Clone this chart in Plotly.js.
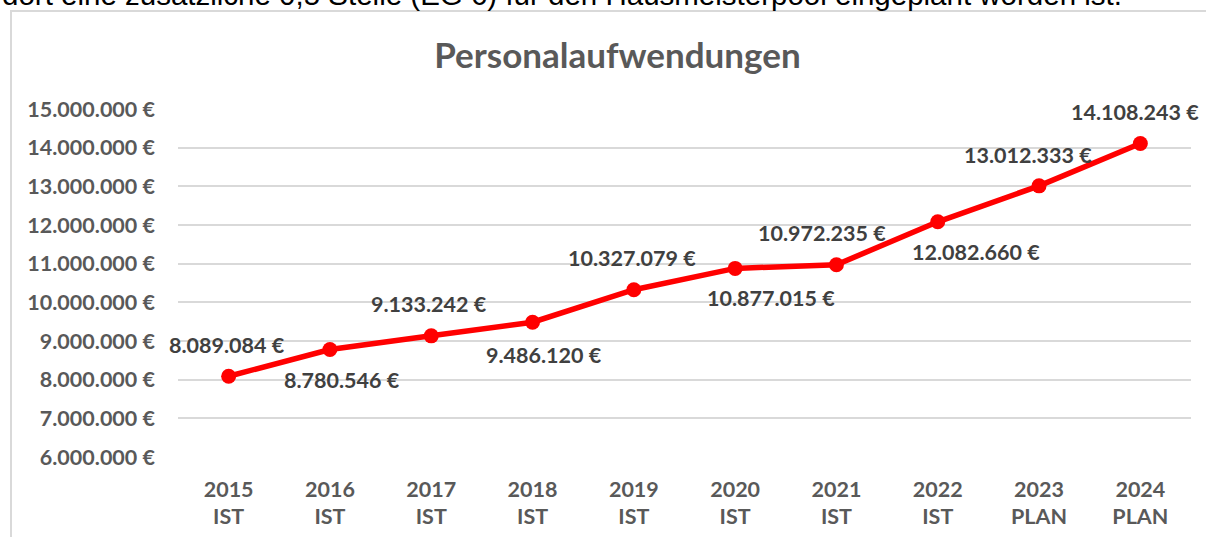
<!DOCTYPE html>
<html>
<head>
<meta charset="utf-8">
<script src="https://cdn.plot.ly/plotly-3.0.1.min.js"></script>
<style>
html,body{margin:0;padding:0;background:#fff;overflow:hidden;}
#wrap{position:relative;width:1206px;height:537px;}
#frame{position:absolute;left:10px;top:10px;width:1300px;height:600px;border-left:2px solid #d9d9d9;border-top:2px solid #d9d9d9;box-sizing:border-box;}
#chart{position:absolute;left:0;top:0;width:1206px;height:537px;}
</style>
</head>
<body>
<div id="wrap">
<div id="frame"></div>
<div id="chart"></div>
</div>
<script>
const years = ['2015','2016','2017','2018','2019','2020','2021','2022','2023','2024'];
const kinds = ['IST','IST','IST','IST','IST','IST','IST','IST','PLAN','PLAN'];
const values = [8089084, 8780546, 9133242, 9486120, 10327079, 10877015, 10972235, 12082660, 13012333, 14108243];
const yTicks = [6000000,7000000,8000000,9000000,10000000,11000000,12000000,13000000,14000000,15000000];
const chartTitle = 'Personalaufwendungen';
const topText = 'dort eine zusätzliche 0,5 Stelle (EG 6) für den Hausmeisterpool eingeplant worden ist.';

// label placement (style): pixel offsets of each data label from its point
const labelDX = [-2, 12, -2, 11, -2, 36, -14, 38, -11, -5];
const labelDY = [31, -31, 32, -33, 32, -30, 32, -30, 31, 31];

const cats = years.map((y,i)=> y + '<br>' + kinds[i]);
const fmt = n => n.toString().replace(/\B(?=(\d{3})+(?!\d))/g, '.') + ' €';
const tickText = yTicks.map(fmt);

const FONT = 'Lato, "Open Sans", sans-serif';

const trace = {
  type: 'scatter',
  mode: 'lines+markers',
  x: cats,
  y: values,
  line: {color: '#ff0000', width: 5.5},
  marker: {color: '#ff0000', size: 15},
  cliponaxis: false,
  hoverinfo: 'skip'
};

const annotations = values.map((v,i)=>({
  x: cats[i], y: v, xref: 'x', yref: 'y',
  text: '<b>' + fmt(v) + '</b>',
  showarrow: false,
  xshift: labelDX[i], yshift: labelDY[i],
  font: {family: FONT, size: 21.5, color: '#404040'}
}));
annotations.push({
  xref: 'paper', yref: 'paper', x: -0.176, y: 1.0, yshift: 96,
  xanchor: 'left', yanchor: 'bottom',
  text: topText, showarrow: false,
  font: {family: '"Liberation Sans", Arial, sans-serif', size: 29.5, color: '#000000'}
});

const layout = {
  width: 1206, height: 537,
  margin: {l: 178, r: 15, t: 109, b: 80},
  paper_bgcolor: 'rgba(0,0,0,0)',
  plot_bgcolor: 'rgba(0,0,0,0)',
  showlegend: false,
  title: {
    text: '<b>' + chartTitle + '</b>',
    font: {family: FONT, size: 35, color: '#595959'},
    x: 0.512, xref: 'container', xanchor: 'center',
    y: 0.897, yref: 'container', yanchor: 'middle'
  },
  xaxis: {
    type: 'category',
    range: [-0.5, 9.5],
    showgrid: false, zeroline: false, showline: false,
    ticks: '',
    tickfont: {family: FONT, size: 21.5, color: '#595959'},
    ticklabelstandoff: 17,
    fixedrange: true
  },
  yaxis: {
    range: [6000000, 15000000],
    tickvals: yTicks,
    ticktext: tickText.map(t=>'<b>'+t+'</b>'),
    showgrid: true, gridcolor: '#d9d9d9', gridwidth: 2,
    zeroline: false, showline: false, ticks: '',
    tickfont: {family: FONT, size: 21.5, color: '#595959'},
    ticklabelstandoff: 22,
    fixedrange: true
  },
  annotations: annotations
};

layout.xaxis.tickvals = cats;
layout.xaxis.ticktext = cats.map(c => '<b>' + c.replace('<br>', '</b><br><b>') + '</b>');

Plotly.newPlot('chart', [trace], layout, {displayModeBar: false, staticPlot: true});
</script>
</body>
</html>
